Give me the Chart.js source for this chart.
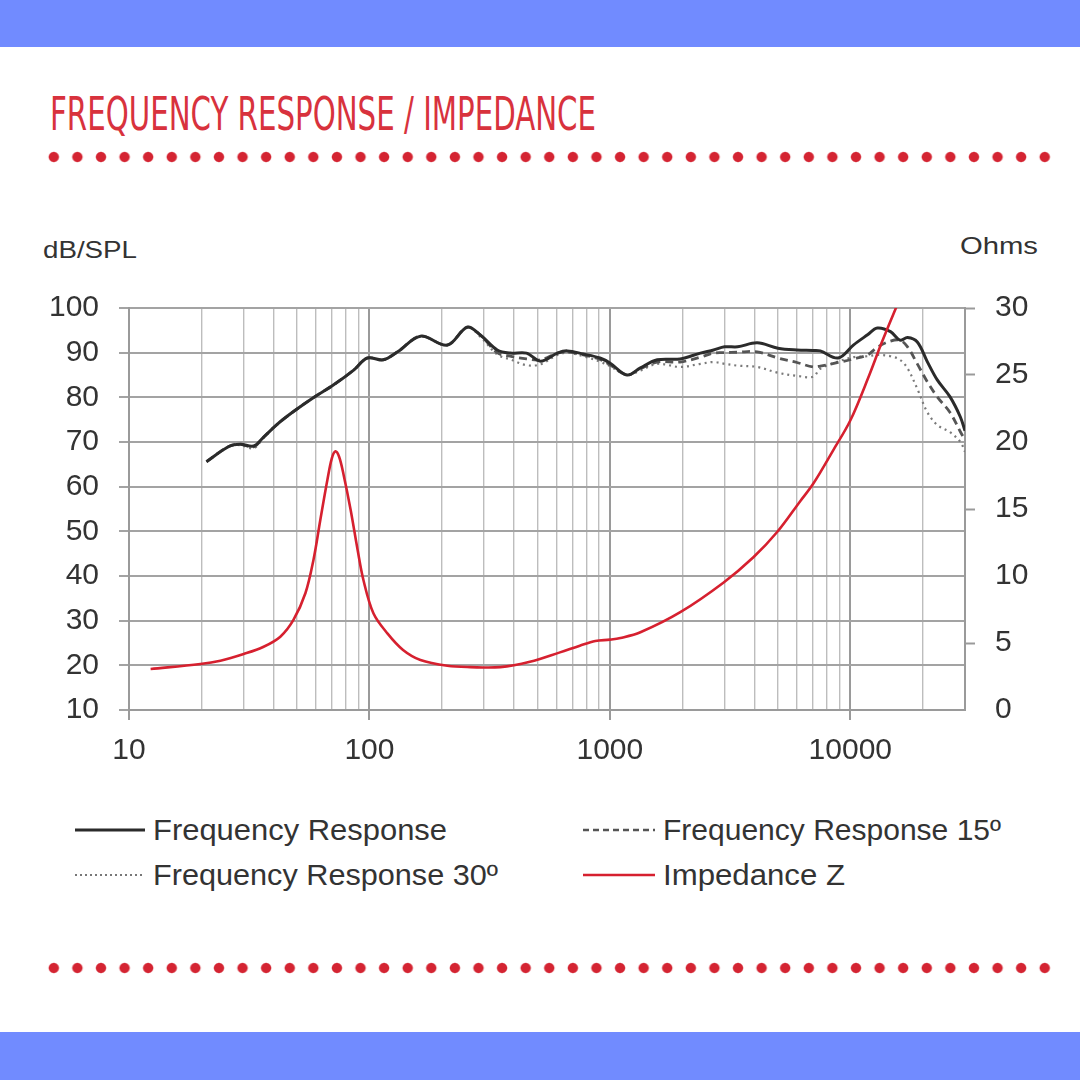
<!DOCTYPE html>
<html><head><meta charset="utf-8">
<script src="https://cdn.jsdelivr.net/npm/chart.js@4.4.1/dist/chart.umd.min.js"></script>
<style>
html,body{margin:0;padding:0;background:#fff;}
body{width:1080px;height:1080px;position:relative;overflow:hidden;font-family:'Liberation Sans',Arial,sans-serif;}
.band{position:absolute;left:0;width:1080px;background:#718bff;}
#title{position:absolute;left:50px;top:91px;font-family:'Liberation Sans Narrow','DejaVu Sans Condensed','Liberation Sans',sans-serif;font-size:46px;line-height:46px;color:#d8323d;white-space:nowrap;transform-origin:0 0;}
.dots{position:absolute;height:12px;background-image:radial-gradient(circle at center,#d42432 0,#d42432 4.5px,rgba(212,36,50,0) 5.7px);background-size:23.6px 12px;background-repeat:repeat-x;}
.axt{position:absolute;font-size:24px;color:#333;white-space:nowrap;line-height:30px;transform-origin:0 50%;}
#wrap{position:absolute;left:0;top:260px;width:1080px;height:540px;}
.leg{position:absolute;font-size:29px;color:#333;white-space:nowrap;line-height:40px;height:40px;transform-origin:0 50%;}
svg.s{position:absolute;}
</style></head><body>
<div class="band" style="top:0;height:47px;"></div>
<div class="band" style="top:1032px;height:48px;"></div>
<div id="title" data-w="546">FREQUENCY RESPONSE / IMPEDANCE</div>
<div class="dots" style="left:42.2px;top:151px;width:1014.8px;"></div>
<div class="dots" style="left:42.2px;top:962px;width:1014.8px;"></div>
<div class="axt" data-w="94" style="left:43px;top:235px;">dB/SPL</div>
<div class="axt" data-w="78" style="left:960px;top:231px;">Ohms</div>
<div id="wrap"><canvas id="c"></canvas></div>

<svg class="s" style="left:75px;top:820px" width="72" height="20"><line x1="0" y1="10" x2="70" y2="10" stroke="#2b2b2b" stroke-width="3"/></svg>
<div class="leg" data-w="294" style="left:153px;top:810px;">Frequency Response</div>
<svg class="s" style="left:583px;top:820px" width="74" height="20"><line x1="0" y1="10" x2="72" y2="10" stroke="#555" stroke-width="2.5" stroke-dasharray="6 4"/></svg>
<div class="leg" data-w="338" style="left:663px;top:810px;">Frequency Response 15º</div>
<svg class="s" style="left:75px;top:865px" width="72" height="20"><line x1="0" y1="10" x2="70" y2="10" stroke="#777" stroke-width="2" stroke-dasharray="2 3"/></svg>
<div class="leg" data-w="345" style="left:153px;top:855px;">Frequency Response 30º</div>
<svg class="s" style="left:583px;top:865px" width="74" height="20"><line x1="0" y1="10" x2="72" y2="10" stroke="#d6202f" stroke-width="2.5"/></svg>
<div class="leg" data-w="182" style="left:663px;top:855px;">Impedance Z</div>

<script>
// ---- data ----
const freqFR = [21, 26, 29, 33, 36, 41, 48, 58, 71, 86, 98, 114, 131, 163, 211, 255, 290, 340, 385, 450, 515, 605, 665, 775, 910, 1000, 1180, 1340, 1575, 1960, 2380, 2700, 3000, 3400, 4100, 5000, 6000, 7000, 7500, 8900, 10300, 11800, 12950, 14700, 16100, 17300, 19000, 20900, 23000, 26000, 28700, 30000];
const splFR = [65.6, 69.0, 69.5, 69.1, 70.9, 73.8, 76.7, 79.8, 82.8, 86.1, 88.8, 88.4, 90.2, 93.7, 91.7, 95.7, 93.9, 90.6, 89.9, 89.9, 88.1, 89.9, 90.4, 89.7, 88.8, 87.7, 85.0, 86.6, 88.4, 88.6, 89.9, 90.6, 91.3, 91.3, 92.2, 91.0, 90.6, 90.5, 90.4, 88.8, 91.7, 94.0, 95.5, 94.7, 92.8, 93.4, 92.4, 88.0, 83.9, 80.1, 75.6, 72.5];
const spl15 = [65.6, 69.0, 69.5, 68.9, 70.9, 73.8, 76.7, 79.8, 82.8, 86.1, 88.8, 88.4, 90.2, 93.7, 91.7, 95.7, 93.9, 90.0, 89.2, 88.6, 88.4, 89.9, 90.2, 89.5, 88.5, 87.3, 85.0, 86.4, 87.9, 87.9, 89.0, 89.9, 90.0, 90.1, 90.2, 88.8, 87.8, 86.8, 87.0, 87.8, 88.6, 89.5, 91.2, 92.6, 92.8, 91.3, 87.5, 83.5, 80.1, 76.6, 72.3, 70.5];
const spl30 = [65.6, 69.0, 69.3, 68.6, 70.7, 73.8, 76.7, 79.8, 82.8, 86.1, 88.8, 88.4, 90.2, 93.7, 91.7, 95.7, 93.5, 89.6, 88.5, 87.2, 87.4, 89.5, 90.0, 89.2, 88.0, 87.0, 85.0, 86.0, 87.5, 86.8, 87.5, 87.9, 87.5, 87.1, 86.8, 85.5, 84.8, 84.6, 86.4, 88.0, 89.0, 89.2, 89.5, 89.2, 88.4, 86.5, 81.9, 76.7, 73.8, 72.2, 70.0, 67.8];
const freqZ = [12.3, 19.8, 24, 30, 36.3, 42.6, 48.3, 54.2, 58.5, 62.5, 66.9, 69.8, 72.2, 74.8, 78, 83.4, 89.2, 94.4, 104, 119, 138, 163, 211, 263, 350, 465, 620, 750, 870, 1000, 1107, 1340, 1963, 2965, 3954, 4975, 6200, 7020, 8500, 10000, 12000, 13500, 15900];
const ohmZ = [3.06, 3.43, 3.68, 4.18, 4.72, 5.47, 6.72, 8.73, 11.2, 14.2, 17.2, 18.8, 19.3, 18.9, 17.6, 15.0, 12.0, 9.7, 7.2, 5.7, 4.48, 3.73, 3.3, 3.2, 3.2, 3.6, 4.3, 4.8, 5.15, 5.25, 5.37, 5.8, 7.3, 9.5, 11.4, 13.3, 15.6, 16.9, 19.4, 21.6, 25.0, 27.4, 30.5];
const seriesNames = ['Frequency Response', 'Frequency Response 15º', 'Frequency Response 30º', 'Impedance Z'];
const xTickLabels = [10, 100, 1000, 10000];
const xMin = 10, xMax = 30000;
const splMin = 10, splMax = 100, splLabelStep = 10, splGridStep = 2;
const ohmMin = 0, ohmMax = 30, ohmStep = 5;

// fit text widths to the reference
document.querySelectorAll('[data-w]').forEach(el => {
  const w = el.getBoundingClientRect().width;
  el.style.transform = 'scaleX(' + (parseFloat(el.dataset.w) / w) + ')';
});

const toXY = (xs, ys) => xs.map((x, i) => ({x: x, y: ys[i]}));
const xGridVals = [];
for (let d = 10; d <= xMax; d *= 10) for (let m = 1; m <= 9; m++) { const v = m * d; if (v <= xMax) xGridVals.push(v); }

const tickFont = {family: "'Liberation Sans', Arial, sans-serif", size: 30};

new Chart(document.getElementById('c'), {
  type: 'line',
  data: {
    datasets: [
      {label: seriesNames[3], data: toXY(freqZ, ohmZ), yAxisID: 'y2', borderColor: '#d6202f', borderWidth: 2.6, order: 0},
      {label: seriesNames[0], data: toXY(freqFR, splFR), yAxisID: 'y', borderColor: '#2b2b2b', borderWidth: 3, order: 1},
      {label: seriesNames[1], data: toXY(freqFR, spl15), yAxisID: 'y', borderColor: '#555', borderWidth: 2.8, borderDash: [8, 5], order: 2},
      {label: seriesNames[2], data: toXY(freqFR, spl30), yAxisID: 'y', borderColor: '#7a7a7a', borderWidth: 2.2, borderDash: [2, 4], order: 3}
    ]
  },
  options: {
    responsive: true, maintainAspectRatio: false, animation: false,
    layout: {padding: {top: 48, left: 0, right: 0, bottom: 0}},
    elements: {point: {radius: 0}, line: {tension: 0.35, fill: false}},
    plugins: {legend: {display: false}, tooltip: {enabled: false}},
    scales: {
      x: {
        type: 'logarithmic', min: xMin, max: xMax,
        afterBuildTicks: s => { s.ticks = xGridVals.map(v => ({value: v})); },
        afterFit: s => { s.height = 90; },
        ticks: {autoSkip: false, maxRotation: 0, padding: 13, color: '#333', font: tickFont,
          callback: v => xTickLabels.includes(v) ? String(v) : ''},
        grid: {
          color: c => xTickLabels.includes(c.tick && c.tick.value) ? '#9a9a9a' : '#bdbdbd',
          lineWidth: c => xTickLabels.includes(c.tick && c.tick.value) ? 2 : 1.4,
          tickColor: c => xTickLabels.includes(c.tick && c.tick.value) ? '#9a9a9a' : 'rgba(0,0,0,0)',
          tickLength: 10, tickWidth: 2
        },
        border: {color: '#9a9a9a', width: 2}
      },
      y: {
        position: 'left', min: splMin, max: splMax,
        afterFit: s => { s.width = 129; },
        ticks: {stepSize: splGridStep, padding: 20, color: '#333', font: tickFont,
          callback: v => (v % splLabelStep === 0) ? String(v) : ''},
        grid: {
          color: c => (c.tick && c.tick.value % splLabelStep === 0) ? '#a3a3a3' : '#d3d3d3',
          lineWidth: c => (c.tick && c.tick.value % splLabelStep === 0) ? 2 : 1.3,
          tickColor: c => (c.tick && c.tick.value % splLabelStep === 0) ? '#a3a3a3' : 'rgba(0,0,0,0)',
          tickLength: 10, tickWidth: 2
        },
        border: {color: '#9a9a9a', width: 2}
      },
      y2: {
        position: 'right', min: ohmMin, max: ohmMax,
        afterFit: s => { s.width = 115; },
        ticks: {stepSize: ohmStep, padding: 20, color: '#333', font: tickFont},
        grid: {
          drawOnChartArea: false,
          tickColor: c => (c.tick && (c.tick.value % 10 !== 0 || c.tick.value === ohmMax)) ? '#9a9a9a' : 'rgba(0,0,0,0)',
          tickLength: 10, tickWidth: 2
        },
        border: {color: '#9a9a9a', width: 2}
      }
    }
  }
});
</script>
</body></html>
